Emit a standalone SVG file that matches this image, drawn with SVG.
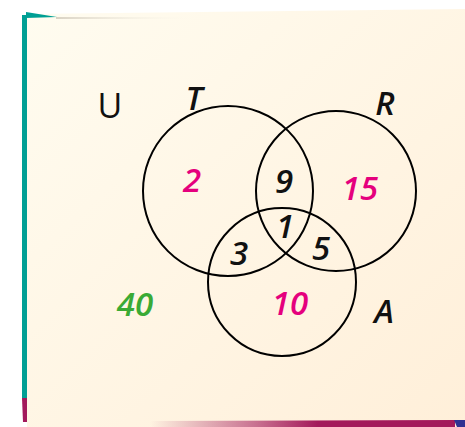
<svg xmlns="http://www.w3.org/2000/svg" width="465" height="427" viewBox="0 0 465 427">
<defs>
<linearGradient id="paper" x1="0" y1="0" x2="1" y2="1">
<stop offset="0" stop-color="#FFFCF0"/>
<stop offset="1" stop-color="#FFEFD9"/>
</linearGradient>
<linearGradient id="bottom" x1="0" y1="0" x2="1" y2="0">
<stop offset="0" stop-color="#A3195B" stop-opacity="0"/>
<stop offset="0.35" stop-color="#A3195B" stop-opacity="0.6"/>
<stop offset="0.55" stop-color="#A3195B"/>
<stop offset="1" stop-color="#A3195B"/>
</linearGradient>
<linearGradient id="topline" x1="0" y1="0" x2="1" y2="0">
<stop offset="0" stop-color="#D9D2C4"/>
<stop offset="1" stop-color="#FFFCF0" stop-opacity="0"/>
</linearGradient>
<style>
.c{fill:none;stroke:#000;stroke-width:2}
.t{font-family:"Open Sans","Noto Sans",sans-serif;font-style:italic;font-weight:600;font-size:33px;text-anchor:middle}
.k{fill:#111}
.m{fill:#E5007D}
.g{fill:#3AAA35}
</style>
</defs>
<g id="background">
<polygon points="26,14 465,9 465,427 27,427" fill="url(#paper)"/>
<polygon points="56,17 200,17 200,19 56,19" fill="url(#topline)"/>
<polygon points="26,12 57,17 26,18" fill="#009F94"/>
<rect x="22" y="15" width="5" height="383" fill="#009F94"/>
<polygon points="22,398 27,398 27,422 23,422" fill="#A3195B"/>
<polygon points="150,421 455,420 455,427 150,427" fill="url(#bottom)"/>
<polygon points="454,420 465,420 465,427 457,427" fill="#2E3192"/>
</g>
<g id="connectors"></g>
<g id="circle-T"><circle class="c" cx="228" cy="191" r="85"/></g>
<g id="circle-R"><circle class="c" cx="336" cy="191" r="80"/></g>
<g id="circle-A"><circle class="c" cx="282" cy="282" r="74"/></g>
<g id="labels">
<text x="110" y="118" font-family="'Open Sans','Noto Sans',sans-serif" font-size="34" text-anchor="middle" fill="#111">U</text>
<text class="t k" x="194" y="110">T</text>
<text class="t k" x="385" y="115">R</text>
<text class="t k" x="384" y="323">A</text>
</g>
<g id="numbers">
<text class="t m" x="192" y="192">2</text>
<text class="t k" x="284" y="193">9</text>
<text class="t m" x="360" y="200">15</text>
<text class="t k" x="285" y="238">1</text>
<text class="t k" x="239" y="265">3</text>
<text class="t k" x="321" y="260">5</text>
<text class="t m" x="290" y="315">10</text>
<text class="t g" x="135" y="316">40</text>
</g>
</svg>
